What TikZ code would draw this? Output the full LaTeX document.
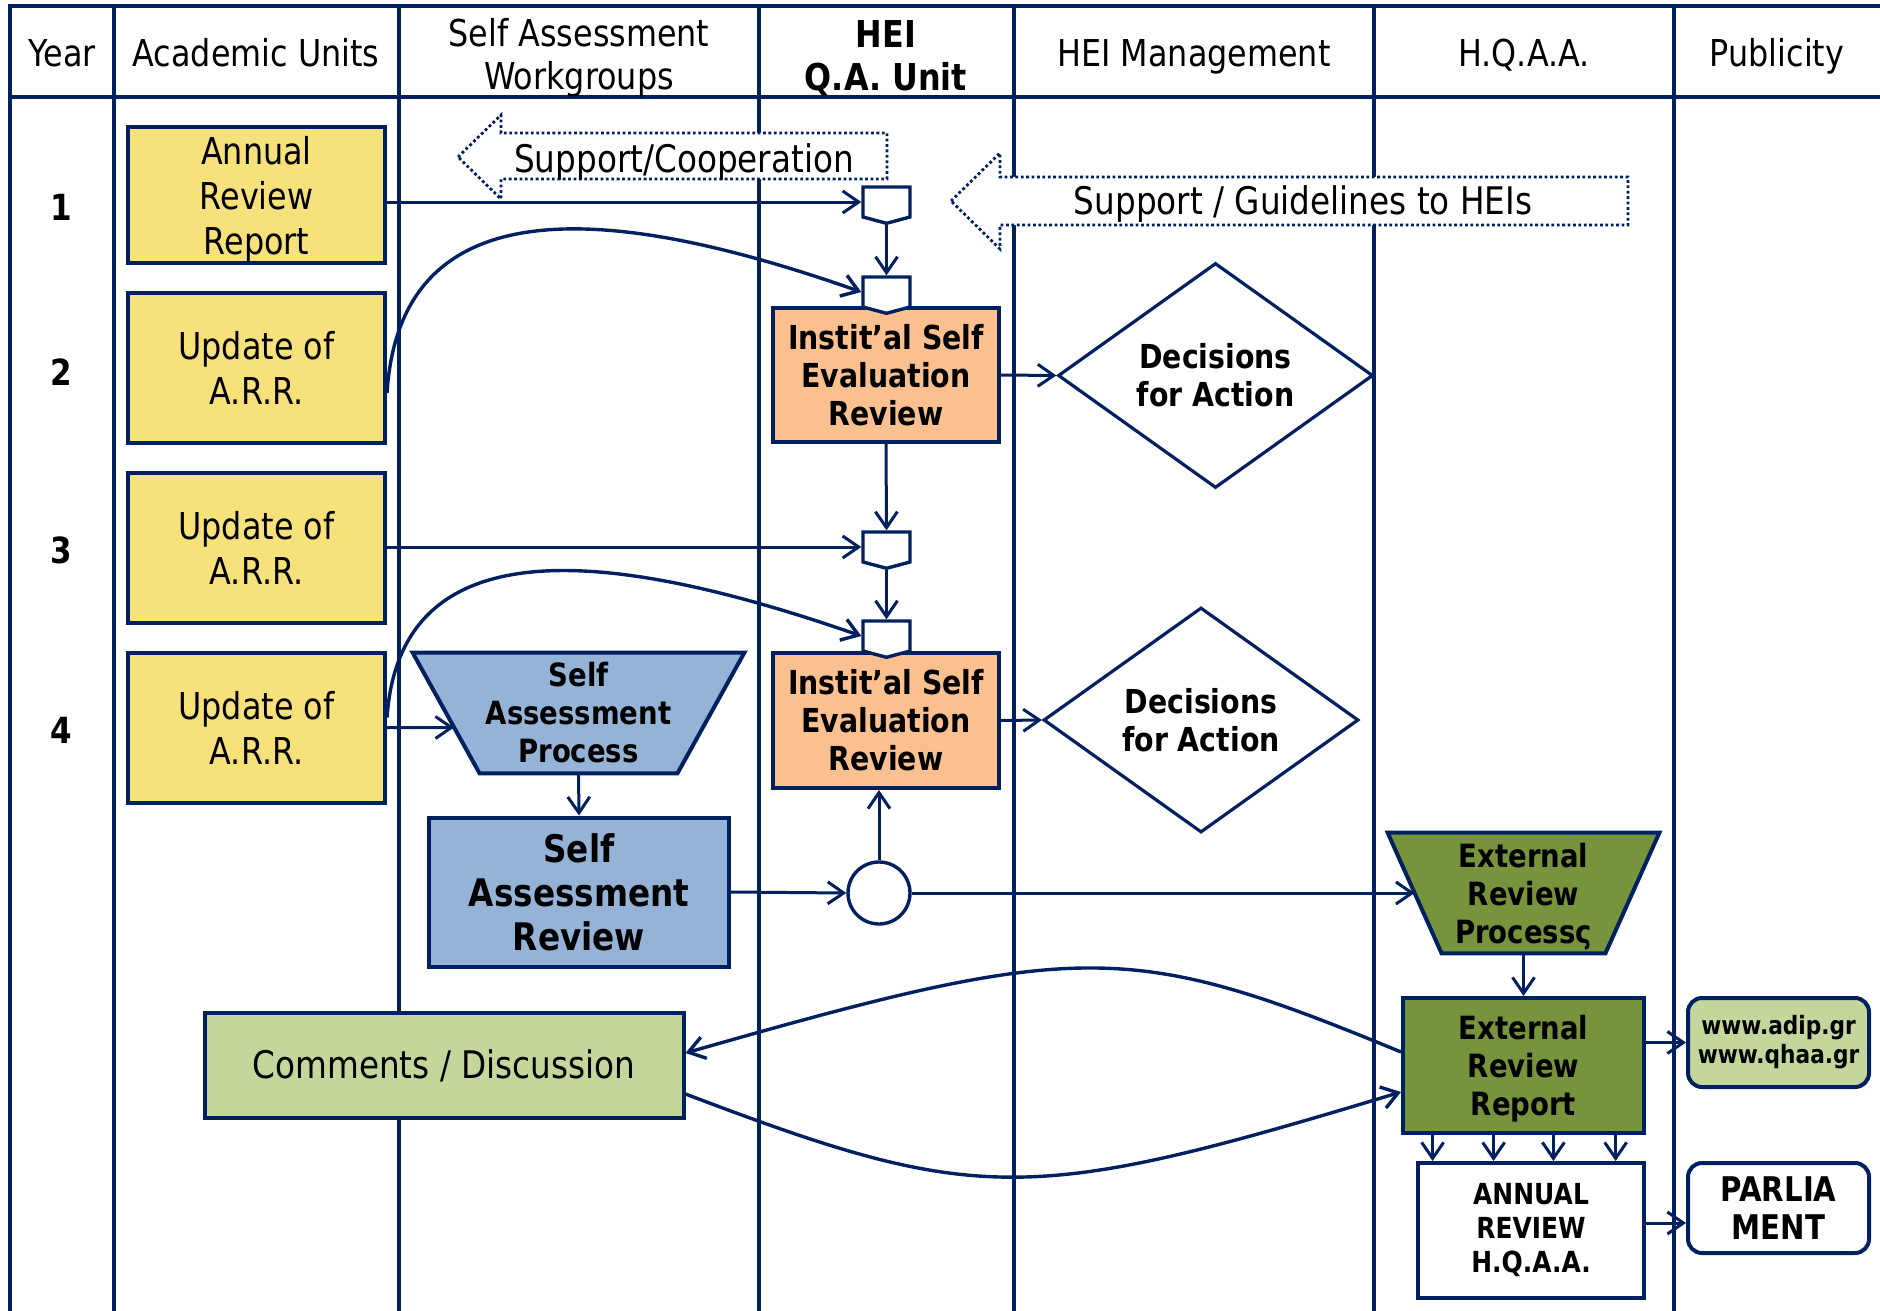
\documentclass[tikz,border=0pt]{standalone}
\usepackage{fontspec}
\setmainfont{DejaVu Sans}[FakeStretch=0.86]
\usetikzlibrary{arrows.meta,shapes.geometric,shapes.symbols,calc}
\definecolor{navy}{HTML}{002060}
\definecolor{yelc}{RGB}{246,225,122}
\definecolor{orac}{HTML}{FAC090}
\definecolor{bluc}{HTML}{95B3D7}
\definecolor{dgrc}{HTML}{77933C}
\definecolor{lgrc}{HTML}{C3D69B}
\pgfdeclarelayer{back}
\pgfsetlayers{back,main}
\begin{document}
\begin{tikzpicture}[x=0.5pt,y=-0.5pt,
  every node/.style={inner sep=0pt,align=center,text=black},
  tline/.style={navy,line width=1.7pt},
  hline/.style={navy,line width=2.2pt},
  hdr/.style={font=\fontsize{18.5}{21.5}\selectfont},
  rownum/.style={font=\fontsize{18}{20}\selectfont\bfseries},
  yel/.style={draw=navy,line width=2pt,fill=yelc,minimum width=128.5pt,minimum height=75pt,font=\fontsize{18.5}{22.5}\selectfont},
  conn/.style={draw=navy,line width=1.7pt,fill=white,signal,signal to=south,signal from=nowhere,signal pointer angle=150,minimum width=23.5pt,minimum height=15pt},
  ora/.style={draw=navy,line width=2pt,fill=orac,minimum width=113pt,minimum height=67.5pt,font=\fontsize{16.5}{19}\selectfont\bfseries},
  dec/.style={draw=navy,line width=1.6pt,fill=white,diamond,minimum width=157.5pt,minimum height=112.5pt,font=\fontsize{16.5}{19}\selectfont\bfseries},
  arr/.style={navy,line width=1.5pt,-{Straight Barb[length=8pt,width=11pt]}},
  curv/.style={arr,line width=1.7pt},
  dotarrow/.style={draw=navy,line width=1.4pt,dash pattern=on 1.4pt off 1.3pt,fill=white},
  trapshape/.style={draw=navy,line width=2pt},
  lbl/.style={font=\fontsize{19}{22}\selectfont,anchor=base},
]
\useasboundingbox (0,0) rectangle (1880,1311);

% table grid
\begin{pgfonlayer}{back}
\foreach \x in {10,114,399,759,1014,1374,1674} \draw[tline] (\x,6) -- (\x,1311);
\draw[hline] (8,6) -- (1880,6);
\draw[hline] (8,97) -- (1880,97);
\end{pgfonlayer}

% header
\node[hdr,anchor=base] (hYear) at (62,67) {Year};
\node[hdr,anchor=base] (hAU) at (256,67) {Academic Units};
\node[hdr] (hSAW) at (579,58) {Self Assessment\\Workgroups};
\node[hdr,font=\fontsize{18.5}{21.5}\selectfont\bfseries] (hQA) at (886,58) {HEI\\Q.A. Unit};
\node[hdr,anchor=base] (hMan) at (1194,67) {HEI Management};
\node[hdr,anchor=base] (hHQ) at (1524,67) {H.Q.A.A.};
\node[hdr,anchor=base] (hPub) at (1777,67) {Publicity};

% row numbers
\node[rownum] (r1) at (61,207) {1};
\node[rownum] (r2) at (61,372) {2};
\node[rownum] (r3) at (61,550) {3};
\node[rownum] (r4) at (61,730) {4};

% dotted block arrows
\draw[dotarrow] (458,157) -- (501,115) -- (501,133) -- (887,133) -- (887,179) -- (501,179) -- (501,199) -- cycle;
\node[lbl] (sc) at (684,172) {Support/Cooperation};
\draw[dotarrow] (951,201) -- (1000,153) -- (1000,177) -- (1628,177) -- (1628,225) -- (1000,225) -- (1000,249) -- cycle;
\node[lbl] (sg) at (1303,214) {Support / Guidelines to HEIs};

% academic units
\node[yel,minimum height=68pt,text depth=0pt] (b1) at (256.5,195) {Annual\\Review\\Report};
\node[yel] (b2) at (256.5,368) {Update of\\A.R.R.};
\node[yel] (b3) at (256.5,547.5) {Update of\\A.R.R.};
\node[yel] (b4) at (256.5,727.5) {Update of\\A.R.R.};

% QA unit boxes
\node[ora,minimum height=67pt] (o1) at (886,375) {Instit’al Self\\Evaluation\\Review};
\node[ora] (o2) at (886,720.5) {Instit’al Self\\Evaluation\\Review};

% connectors
\node[conn] (c1) at (886.5,202) {};
\node[conn] (c2) at (886.5,292) {};
\node[conn] (c3) at (886.5,547) {};
\node[conn] (c4) at (886.5,636) {};

% decisions
\node[dec] (d1) at (1215.5,375.5) {Decisions\\for Action};
\node[dec] (d2) at (1201,720) {Decisions\\for Action};

% self assessment process (trapezoid)
\node[minimum width=165.5pt,minimum height=60pt,font=\fontsize{16}{19}\selectfont\bfseries] (tp) at (578.5,713) {Self\\Assessment\\Process};
\begin{pgfonlayer}{back}
\draw[trapshape,fill=bluc] (tp.north west) -- (tp.north east) -- ($(tp.south east)+(-67,0)$) -- ($(tp.south west)+(67,0)$) -- cycle;
\end{pgfonlayer}

\node[draw=navy,line width=2pt,fill=bluc,minimum width=150pt,minimum height=74.5pt,font=\fontsize{19}{22}\selectfont\bfseries] (sar) at (579,892) {Self\\Assessment\\Review};

\node[circle,draw=navy,line width=1.7pt,fill=white,minimum size=31pt] (circ) at (879,893) {};

% external review process (trapezoid)
\node[minimum width=135.5pt,minimum height=60pt,text depth=0pt,font=\fontsize{16}{19}\selectfont\bfseries] (gtp) at (1523.5,893) {External\\Review\\Processς};
\begin{pgfonlayer}{back}
\draw[trapshape,fill=dgrc] (gtp.north west) -- (gtp.north east) -- ($(gtp.south east)+(-54,0)$) -- ($(gtp.south west)+(54,0)$) -- cycle;
\end{pgfonlayer}

\node[draw=navy,line width=2pt,fill=dgrc,minimum width=120.5pt,minimum height=67.5pt,text depth=0pt,font=\fontsize{16}{19}\selectfont\bfseries] (gbox) at (1523.5,1065.5) {External\\Review\\Report};
\node[draw=navy,line width=2pt,fill=white,minimum width=113pt,minimum height=67.5pt,font=\fontsize{14.5}{17}\selectfont\bfseries] (arh) at (1531,1230.5) {ANNUAL\\REVIEW\\H.Q.A.A.};
\node[draw=navy,line width=2pt,fill=lgrc,rounded corners=7pt,minimum width=90.5pt,minimum height=44.5pt,font=\fontsize{12.6}{14.5}\selectfont\bfseries] (www) at (1778.5,1042.5) {www.adip.gr\\www.qhaa.gr};
\node[draw=navy,line width=2pt,fill=white,rounded corners=7pt,minimum width=90.5pt,minimum height=45pt,font=\fontsize{17}{19}\selectfont\bfseries] (parl) at (1778.5,1208) {PARLIA\\MENT};
\node[draw=navy,line width=2pt,fill=lgrc,minimum width=239.5pt,minimum height=52.5pt,font=\fontsize{19}{22}\selectfont] (com) at (444,1065.5) {Comments / Discussion};

% connectors / arrows
\draw[arr] (b1.east |- c1.west) -- (c1.west);
\draw[arr] (c1.south) -- (c2.north);
\draw[curv] ($(b2.east)+(0,25)$) .. controls (400,190) and (600,200) .. (c2.west);
\draw[arr] (b3.east |- c3.west) -- (c3.west);
\draw[arr] (o1.south) -- (c3.north);
\draw[arr] (c3.south) -- (c4.north);
\draw[curv] ($(b4.east)+(0,-10)$) .. controls (400,530) and (600,545) .. (c4.west);
\draw[arr] (b4.east) -- ($(tp.north west)!0.62!(tp.south west)+(41.5,0)$);
\draw[arr] (o1.east) -- (d1.west);
\draw[arr] (o2.east) -- (d2.west);
\draw[arr] (tp.south) -- (sar.north);
\draw[arr] (sar.east) -- (circ.west);
\draw[arr] (circ.north) -- (circ.north |- o2.south);
\draw[arr] (circ.east) -- ($(gtp.west)+(27,0)$);
\draw[arr] (gtp.south) -- (gbox.north);
\draw[arr] (gbox.east |- www.west) -- (www.west);
\draw[arr] ($(arh.east)+(0,-7.5)$) -- ($(parl.west)+(0,15)$);
\foreach \f [count=\i] in {0.129,0.378,0.622,0.876} {
  \path ($(gbox.south west)!\f!(gbox.south east)$) coordinate (g\i);
  \draw[arr] (g\i) -- (g\i |- arh.north);
}
\draw[curv] ($(gbox.west)+(0,-13.5)$) .. controls (1130,940) and (1080,940) .. ($(com.east)+(0,-12.5)$);
\draw[curv] ($(com.east)+(0,28.5)$) .. controls (978,1205) and (1028,1205) .. ($(gbox.west)+(0,26.5)$);
\end{tikzpicture}
\end{document}
